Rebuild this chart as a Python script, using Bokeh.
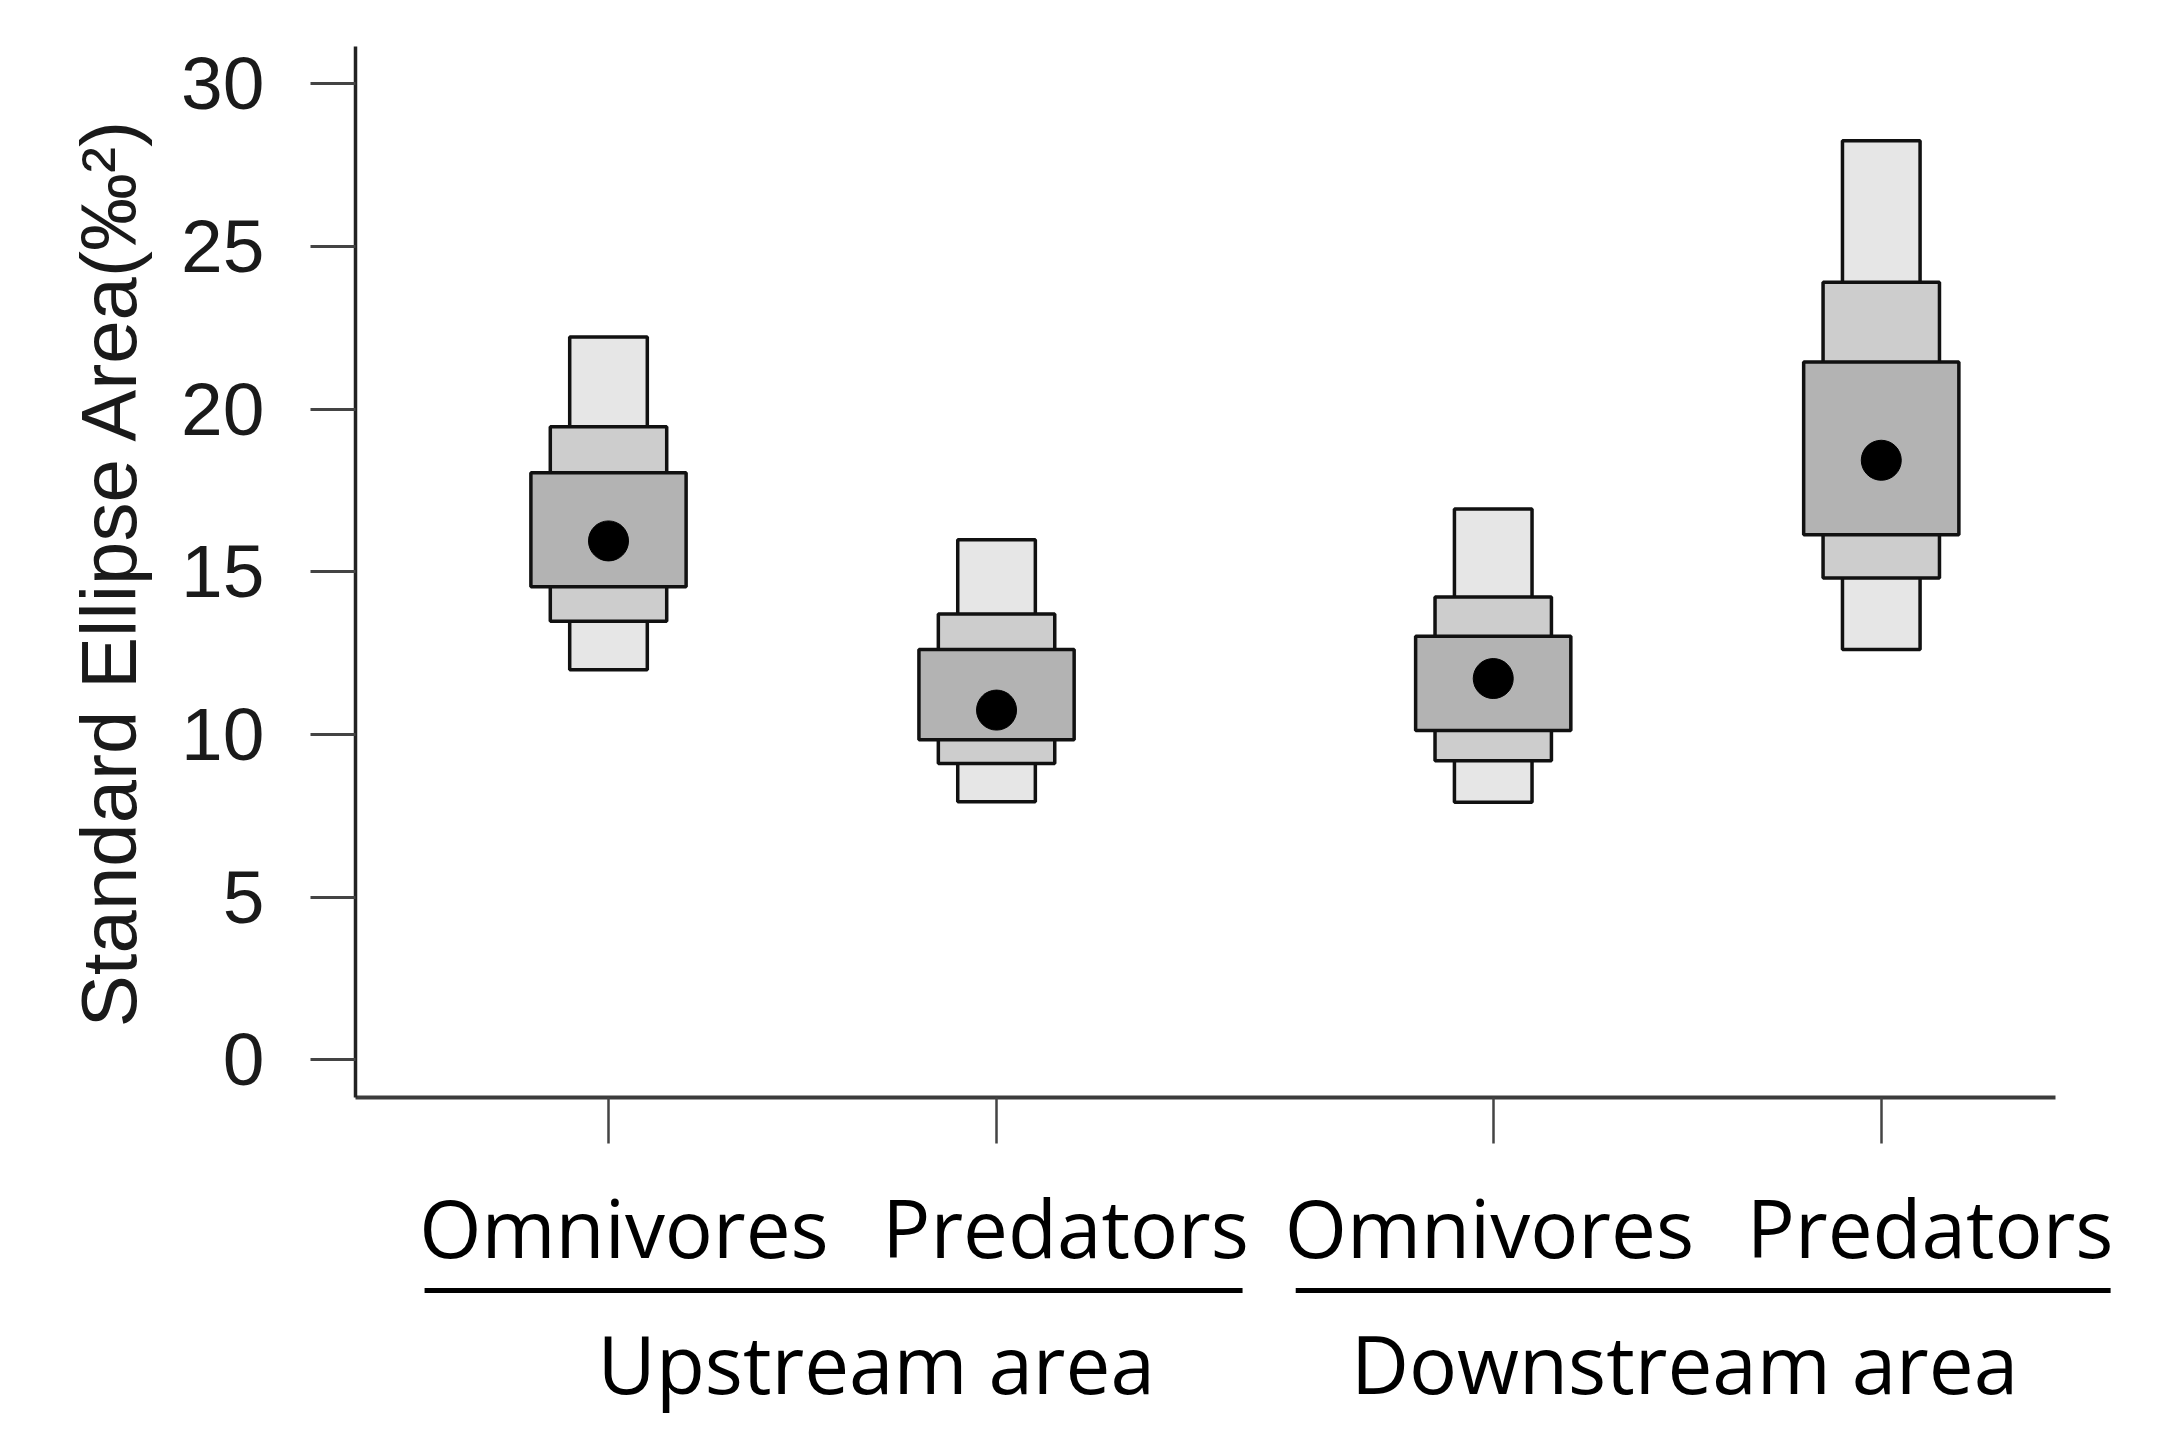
from bokeh.plotting import figure
from bokeh.layouts import column
from bokeh.models import FixedTicker, Range1d, ColumnDataSource
from bokeh.core.properties import value
from bokeh.embed import file_html
from bokeh.resources import INLINE

# ---- data ----
groups = ["Upstream area", "Downstream area"]
categories = ["Omnivores", "Predators"]
mode_sea = [15.95, 10.75, 11.72, 18.43]
ci95_low = [11.99, 7.93, 7.92, 12.61]
ci95_high = [22.22, 15.99, 16.93, 28.25]
ci75_low = [13.48, 9.11, 9.19, 14.81]
ci75_high = [19.46, 13.70, 14.23, 23.90]
ci50_low = [14.54, 9.84, 10.12, 16.14]
ci50_high = [18.05, 12.61, 13.02, 21.45]
y_ticks = [0, 5, 10, 15, 20, 25, 30]

# ---- layout / style ----
GROUP_STEP = 2.28          # x distance between first members of the two groups
X0, X1 = 0.348, 4.729      # main x-range
Y0, Y1 = -1.16, 31.15      # main y-range
FW, FH = 1700, 1051        # main frame size
LEFT, TOP, RIGHT, BOTTOM = 355, 46, 95, 186
BW = FW + RIGHT            # bottom (group label) frame width
BH = 160
cat_shift = [0.04, 0.178, -0.01, 0.126]   # label offset from its box (x units)

xs = []
cat_labels = []
for g in range(len(groups)):
    for j, c in enumerate(categories):
        xs.append(1 + j + g * GROUP_STEP)
        cat_labels.append(c)
label_xs = [x + s for x, s in zip(xs, cat_shift)]

p = figure(frame_width=FW, frame_height=FH, min_border_left=LEFT, min_border_right=RIGHT,
           min_border_top=TOP, min_border_bottom=BOTTOM,
           x_range=Range1d(X0, X1), y_range=Range1d(Y0, Y1),
           output_backend="svg", toolbar_location=None)
p.outline_line_color = None
p.xgrid.visible = False
p.ygrid.visible = False
p.background_fill_color = "white"
p.border_fill_color = "white"

src = ColumnDataSource(dict(x=xs, mode=mode_sea,
                            l95=ci95_low, h95=ci95_high,
                            l75=ci75_low, h75=ci75_high,
                            l50=ci50_low, h50=ci50_high))

box_line = dict(line_color="#111111", line_width=3.5)
p.vbar(x="x", bottom="l95", top="h95", width=0.2, source=src, fill_color="#e6e6e6", **box_line)
p.vbar(x="x", bottom="l75", top="h75", width=0.3, source=src, fill_color="#cdcdcd", **box_line)
p.vbar(x="x", bottom="l50", top="h50", width=0.4, source=src, fill_color="#b3b3b3", **box_line)
p.scatter(x="x", y="mode", source=src, size=40, marker="circle",
          fill_color="black", line_color="black")

# y axis
ya = p.yaxis[0]
ya.ticker = FixedTicker(ticks=y_ticks)
ya.axis_line_color = "#222222"
ya.axis_line_width = 3.5
ya.major_tick_line_color = "#444444"
ya.major_tick_line_width = 3
ya.major_tick_out = 45
ya.major_tick_in = 0
ya.minor_tick_line_color = None
ya.major_label_standoff = 46
ya.major_label_text_font = "Liberation Sans"
ya.major_label_text_font_size = "75px"
ya.major_label_text_color = "#1a1a1a"
ya.axis_label = "Standard Ellipse Area(‰²)"
ya.axis_label_text_font = "Liberation Sans"
ya.axis_label_text_font_size = "78px"
ya.axis_label_text_font_style = "normal"
ya.axis_label_text_color = "#1a1a1a"
ya.axis_label_standoff = 25

# x axis: tick marks (minor ticks) at the boxes, category names as labels
xa = p.xaxis[0]
xa.ticker = FixedTicker(ticks=label_xs, minor_ticks=xs)
xa.major_label_overrides = {x: c for x, c in zip(label_xs, cat_labels)}
xa.axis_line_color = "#3c3c3c"
xa.axis_line_width = 4
xa.major_tick_line_color = None
xa.major_tick_out = 0
xa.major_tick_in = 0
xa.minor_tick_line_color = "#444444"
xa.minor_tick_line_width = 2.5
xa.minor_tick_out = 46
xa.minor_tick_in = 0
xa.major_label_standoff = 28
xa.major_label_text_font = "Open Sans"
xa.major_label_text_font_size = "80px"
xa.major_label_text_color = "black"

# ---- group labels panel (underlines + group names) ----
xb_end = X0 + (X1 - X0) * BW / FW
pb = figure(frame_width=BW, frame_height=BH, min_border_left=LEFT, min_border_right=0,
            min_border_top=0, min_border_bottom=0,
            x_range=Range1d(X0, xb_end), y_range=Range1d(BH, 0),
            x_axis_location=None, y_axis_location=None,
            output_backend="svg", toolbar_location=None)
pb.outline_line_color = None
pb.xgrid.visible = False
pb.ygrid.visible = False

n = len(categories)
pad_l = [0.474, 0.509]
pad_r = [0.634, 0.591]
ul_x0 = [xs[g * n] - pad_l[g] for g in range(len(groups))]
ul_x1 = [xs[g * n + n - 1] + pad_r[g] for g in range(len(groups))]
pb.segment(x0=ul_x0, y0=[7] * 2, x1=ul_x1, y1=[7] * 2, line_color="black", line_width=5)

grp_shift = [0.19, -0.007]
grp_x = [sum(xs[g * n:(g + 1) * n]) / n + grp_shift[g] for g in range(len(groups))]
pb.text(x=grp_x, y=[79] * 2, text=groups,
        text_font=value("Open Sans"), text_font_size="80px", text_color="black",
        text_align="center", text_baseline="middle")

layout = column(p, pb, spacing=0)
open("out.html", "w").write(file_html(layout, INLINE))
